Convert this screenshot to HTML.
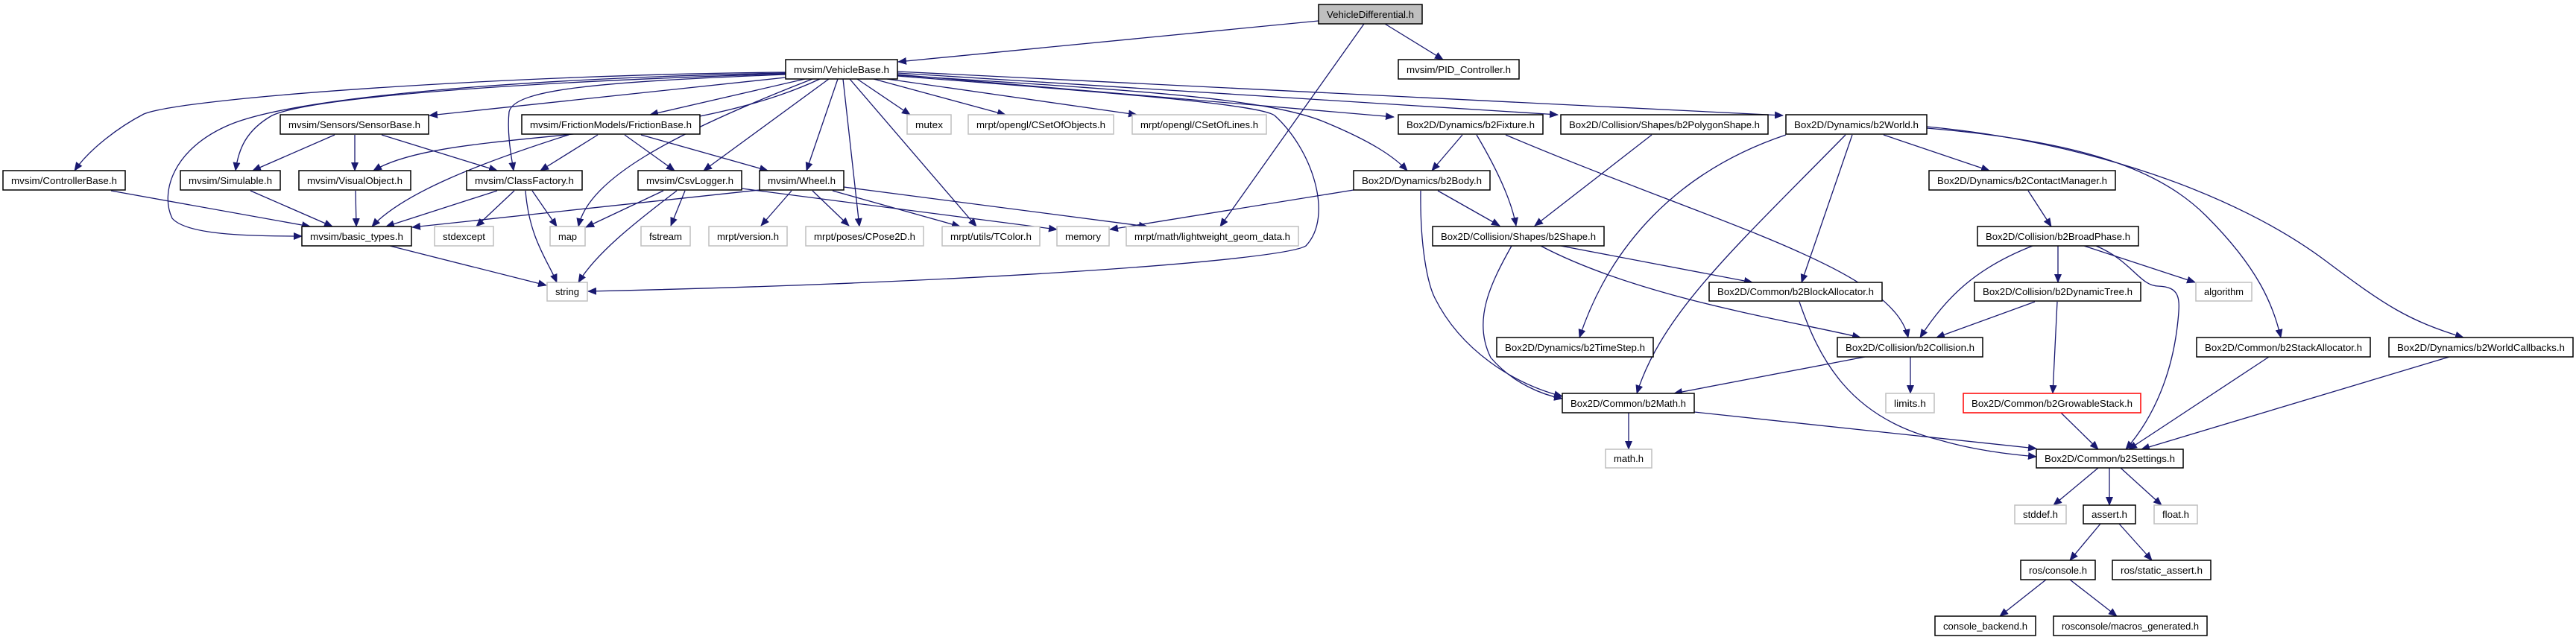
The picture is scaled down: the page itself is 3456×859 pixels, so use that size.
<!DOCTYPE html>
<html><head><meta charset="utf-8"><style>
html,body{margin:0;padding:0;background:#fff;}
svg{display:block}
text{font-family:"Liberation Sans",Arial,sans-serif;font-size:13px;fill:#000}
.n{fill:#fff;stroke:#000;stroke-width:1.5}
.g{fill:#fff;stroke:#bfbfbf;stroke-width:1.5}
.e{fill:none;stroke:#191970;stroke-width:1.3}
</style></head><body>
<svg width="3456" height="859" viewBox="0 0 3456 859" xmlns="http://www.w3.org/2000/svg">
<defs><marker id="a" markerUnits="userSpaceOnUse" markerWidth="12" markerHeight="10" refX="11" refY="5" orient="auto"><path d="M0,0 L12,5 L0,10 z" fill="#191970"/></marker></defs>
<g class="e" marker-end="url(#a)">
<path d="M1769,28 L1205,83"/>
<path d="M1858,32 L1936,80"/>
<path d="M1830,32 L1637,304"/>
<path d="M1054,97 C700,100 250,130 193,153 C160,170 120,200 100,229"/>
<path d="M1054,99 C700,110 420,130 365,155 C330,175 320,200 316,229"/>
<path d="M1054,98 C700,105 400,130 309,167 C230,200 215,260 231,293 C250,315 330,317 405,317"/>
<path d="M1054,104 L576,155"/>
<path d="M1100,106 C900,200 600,170 501,229"/>
<path d="M1054,100 C800,110 690,120 683,150 C680,180 686,210 689,229"/>
<path d="M1090,106 C900,180 790,240 776,304"/>
<path d="M1080,106 L872,154"/>
<path d="M1112,106 L944,229"/>
<path d="M1124,106 L1082,229"/>
<path d="M1131,106 L1153,304"/>
<path d="M1140,106 L1310,304"/>
<path d="M1150,106 L1221,154"/>
<path d="M1172,106 L1349,154"/>
<path d="M1190,106 L1525,154"/>
<path d="M1204,100 L1870,157"/>
<path d="M1204,98 L2090,154"/>
<path d="M1204,96 L2392,155"/>
<path d="M1204,101 C1500,120 1700,130 1780,165 C1840,190 1870,210 1888,229"/>
<path d="M1204,102 C1500,125 1690,140 1710,155 C1760,200 1790,290 1752,330 C1720,350 1300,380 789,391"/>
<path d="M763,181 C640,220 540,260 499,304"/>
<path d="M802,181 L725,229"/>
<path d="M838,181 L905,229"/>
<path d="M860,181 L1030,229"/>
<path d="M449,181 L339,229"/>
<path d="M476,181 L476,229"/>
<path d="M512,181 L667,229"/>
<path d="M149,256 L416,304"/>
<path d="M336,256 L446,304"/>
<path d="M477,256 L478,304"/>
<path d="M667,256 L518,304"/>
<path d="M690,256 L639,304"/>
<path d="M714,256 L747,304"/>
<path d="M705,256 C710,320 735,350 747,379"/>
<path d="M523,330 L733,383"/>
<path d="M1019,255 L553,305"/>
<path d="M890,256 L786,305"/>
<path d="M908,256 C850,300 800,340 776,379"/>
<path d="M919,256 L900,303"/>
<path d="M995,253 L1418,308"/>
<path d="M1062,256 L1021,303"/>
<path d="M1090,256 L1139,303"/>
<path d="M1117,256 L1288,304"/>
<path d="M1132,251 L1539,304"/>
<path d="M1816,255 L1489,308"/>
<path d="M1962,181 L1921,229"/>
<path d="M1981,181 C2010,230 2028,270 2034,303"/>
<path d="M2020,181 C2300,300 2540,360 2560,453"/>
<path d="M2216,181 L2059,303"/>
<path d="M1929,256 L2012,303"/>
<path d="M1906,256 C1905,330 1915,380 1925,400 C1960,470 2030,515 2096,532"/>
<path d="M2028,330 C2000,380 1975,430 2000,480 C2030,515 2070,530 2096,535"/>
<path d="M2094,330 L2351,379"/>
<path d="M2067,330 C2200,400 2400,430 2496,453"/>
<path d="M2396,181 C2250,230 2160,330 2119,453"/>
<path d="M2476,181 C2330,330 2230,420 2196,528"/>
<path d="M2485,181 L2417,379"/>
<path d="M2527,181 L2669,229"/>
<path d="M2585,172 C2800,190 2900,230 2960,290 C3030,360 3050,410 3060,453"/>
<path d="M2585,170 C2800,190 3000,260 3120,350 C3200,410 3230,430 3305,453"/>
<path d="M2721,256 L2752,304"/>
<path d="M2761,330 L2761,379"/>
<path d="M2796,330 L2945,379"/>
<path d="M2727,330 C2650,360 2610,400 2576,453"/>
<path d="M2812,330 C2860,350 2870,383 2895,384 C2925,385 2925,400 2922,430 C2915,500 2890,560 2852,603"/>
<path d="M2730,405 L2598,453"/>
<path d="M2760,405 L2754,528"/>
<path d="M2765,554 L2815,603"/>
<path d="M3044,479 L2856,603"/>
<path d="M3286,479 L2873,603"/>
<path d="M2185,554 L2185,603"/>
<path d="M2273,553 L2732,602"/>
<path d="M2414,405 C2440,480 2480,560 2600,590 C2650,605 2700,610 2732,613"/>
<path d="M2502,479 L2246,528"/>
<path d="M2563,479 L2563,528"/>
<path d="M2815,628 L2755,678"/>
<path d="M2830,628 L2830,678"/>
<path d="M2845,628 L2900,678"/>
<path d="M2818,703 L2777,752"/>
<path d="M2843,703 L2887,752"/>
<path d="M2745,778 L2683,827"/>
<path d="M2777,778 L2840,827"/>
</g>
<g>
<rect x="1769" y="6" width="139" height="26" fill="#bfbfbf" stroke="#000" stroke-width="1.5"/><text x="1838.5" y="24" text-anchor="middle" textLength="117" lengthAdjust="spacingAndGlyphs">VehicleDifferential.h</text>
<rect class="n" x="1054" y="80" width="150" height="26"/><text x="1129" y="98" text-anchor="middle" textLength="128" lengthAdjust="spacingAndGlyphs">mvsim/VehicleBase.h</text>
<rect class="n" x="1876" y="80" width="162" height="26"/><text x="1957" y="98" text-anchor="middle" textLength="140" lengthAdjust="spacingAndGlyphs">mvsim/PID_Controller.h</text>
<rect class="n" x="376" y="154" width="199" height="26"/><text x="475.5" y="172" text-anchor="middle" textLength="177" lengthAdjust="spacingAndGlyphs">mvsim/Sensors/SensorBase.h</text>
<rect class="n" x="700" y="154" width="239" height="26"/><text x="819.5" y="172" text-anchor="middle" textLength="217" lengthAdjust="spacingAndGlyphs">mvsim/FrictionModels/FrictionBase.h</text>
<rect class="g" x="1217" y="154" width="59" height="26"/><text x="1246.5" y="172" text-anchor="middle" textLength="37" lengthAdjust="spacingAndGlyphs">mutex</text>
<rect class="g" x="1299" y="154" width="195" height="26"/><text x="1396.5" y="172" text-anchor="middle" textLength="173" lengthAdjust="spacingAndGlyphs">mrpt/opengl/CSetOfObjects.h</text>
<rect class="g" x="1519" y="154" width="180" height="26"/><text x="1609" y="172" text-anchor="middle" textLength="158" lengthAdjust="spacingAndGlyphs">mrpt/opengl/CSetOfLines.h</text>
<rect class="n" x="1876" y="154" width="194" height="26"/><text x="1973" y="172" text-anchor="middle" textLength="172" lengthAdjust="spacingAndGlyphs">Box2D/Dynamics/b2Fixture.h</text>
<rect class="n" x="2094" y="154" width="278" height="26"/><text x="2233" y="172" text-anchor="middle" textLength="256" lengthAdjust="spacingAndGlyphs">Box2D/Collision/Shapes/b2PolygonShape.h</text>
<rect class="n" x="2396" y="154" width="189" height="26"/><text x="2490.5" y="172" text-anchor="middle" textLength="167" lengthAdjust="spacingAndGlyphs">Box2D/Dynamics/b2World.h</text>
<rect class="n" x="4" y="229" width="164" height="26"/><text x="86" y="247" text-anchor="middle" textLength="142" lengthAdjust="spacingAndGlyphs">mvsim/ControllerBase.h</text>
<rect class="n" x="242" y="229" width="134" height="26"/><text x="309" y="247" text-anchor="middle" textLength="112" lengthAdjust="spacingAndGlyphs">mvsim/Simulable.h</text>
<rect class="n" x="401" y="229" width="150" height="26"/><text x="476" y="247" text-anchor="middle" textLength="128" lengthAdjust="spacingAndGlyphs">mvsim/VisualObject.h</text>
<rect class="n" x="626" y="229" width="155" height="26"/><text x="703.5" y="247" text-anchor="middle" textLength="133" lengthAdjust="spacingAndGlyphs">mvsim/ClassFactory.h</text>
<rect class="n" x="856" y="229" width="139" height="26"/><text x="925.5" y="247" text-anchor="middle" textLength="117" lengthAdjust="spacingAndGlyphs">mvsim/CsvLogger.h</text>
<rect class="n" x="1019" y="229" width="113" height="26"/><text x="1075.5" y="247" text-anchor="middle" textLength="91" lengthAdjust="spacingAndGlyphs">mvsim/Wheel.h</text>
<rect class="n" x="1816" y="229" width="183" height="26"/><text x="1907.5" y="247" text-anchor="middle" textLength="161" lengthAdjust="spacingAndGlyphs">Box2D/Dynamics/b2Body.h</text>
<rect class="n" x="2588" y="229" width="250" height="26"/><text x="2713" y="247" text-anchor="middle" textLength="228" lengthAdjust="spacingAndGlyphs">Box2D/Dynamics/b2ContactManager.h</text>
<rect class="n" x="405" y="304" width="147" height="26"/><text x="478.5" y="322" text-anchor="middle" textLength="125" lengthAdjust="spacingAndGlyphs">mvsim/basic_types.h</text>
<rect class="g" x="583" y="304" width="79" height="26"/><text x="622.5" y="322" text-anchor="middle" textLength="57" lengthAdjust="spacingAndGlyphs">stdexcept</text>
<rect class="g" x="738" y="304" width="47" height="26"/><text x="761.5" y="322" text-anchor="middle" textLength="25" lengthAdjust="spacingAndGlyphs">map</text>
<rect class="g" x="860" y="304" width="66" height="26"/><text x="893" y="322" text-anchor="middle" textLength="44" lengthAdjust="spacingAndGlyphs">fstream</text>
<rect class="g" x="951" y="304" width="105" height="26"/><text x="1003.5" y="322" text-anchor="middle" textLength="83" lengthAdjust="spacingAndGlyphs">mrpt/version.h</text>
<rect class="g" x="1081" y="304" width="158" height="26"/><text x="1160" y="322" text-anchor="middle" textLength="136" lengthAdjust="spacingAndGlyphs">mrpt/poses/CPose2D.h</text>
<rect class="g" x="1264" y="304" width="131" height="26"/><text x="1329.5" y="322" text-anchor="middle" textLength="109" lengthAdjust="spacingAndGlyphs">mrpt/utils/TColor.h</text>
<rect class="g" x="1418" y="304" width="70" height="26"/><text x="1453" y="322" text-anchor="middle" textLength="48" lengthAdjust="spacingAndGlyphs">memory</text>
<rect class="g" x="1511" y="304" width="231" height="26"/><text x="1626.5" y="322" text-anchor="middle" textLength="209" lengthAdjust="spacingAndGlyphs">mrpt/math/lightweight_geom_data.h</text>
<rect class="n" x="1922" y="304" width="230" height="26"/><text x="2037" y="322" text-anchor="middle" textLength="208" lengthAdjust="spacingAndGlyphs">Box2D/Collision/Shapes/b2Shape.h</text>
<rect class="n" x="2653" y="304" width="216" height="26"/><text x="2761" y="322" text-anchor="middle" textLength="194" lengthAdjust="spacingAndGlyphs">Box2D/Collision/b2BroadPhase.h</text>
<rect class="g" x="734" y="379" width="54" height="25"/><text x="761" y="396" text-anchor="middle" textLength="32" lengthAdjust="spacingAndGlyphs">string</text>
<rect class="n" x="2293" y="379" width="232" height="25"/><text x="2409" y="396" text-anchor="middle" textLength="210" lengthAdjust="spacingAndGlyphs">Box2D/Common/b2BlockAllocator.h</text>
<rect class="n" x="2649" y="379" width="223" height="25"/><text x="2760.5" y="396" text-anchor="middle" textLength="201" lengthAdjust="spacingAndGlyphs">Box2D/Collision/b2DynamicTree.h</text>
<rect class="g" x="2946" y="379" width="75" height="25"/><text x="2983.5" y="396" text-anchor="middle" textLength="53" lengthAdjust="spacingAndGlyphs">algorithm</text>
<rect class="n" x="2008" y="453" width="210" height="26"/><text x="2113" y="471" text-anchor="middle" textLength="188" lengthAdjust="spacingAndGlyphs">Box2D/Dynamics/b2TimeStep.h</text>
<rect class="n" x="2465" y="453" width="195" height="26"/><text x="2562.5" y="471" text-anchor="middle" textLength="173" lengthAdjust="spacingAndGlyphs">Box2D/Collision/b2Collision.h</text>
<rect class="n" x="2947" y="453" width="233" height="26"/><text x="3063.5" y="471" text-anchor="middle" textLength="211" lengthAdjust="spacingAndGlyphs">Box2D/Common/b2StackAllocator.h</text>
<rect class="n" x="3205" y="453" width="247" height="26"/><text x="3328.5" y="471" text-anchor="middle" textLength="225" lengthAdjust="spacingAndGlyphs">Box2D/Dynamics/b2WorldCallbacks.h</text>
<rect class="n" x="2096" y="528" width="177" height="26"/><text x="2184.5" y="546" text-anchor="middle" textLength="155" lengthAdjust="spacingAndGlyphs">Box2D/Common/b2Math.h</text>
<rect class="g" x="2530" y="528" width="65" height="26"/><text x="2562.5" y="546" text-anchor="middle" textLength="43" lengthAdjust="spacingAndGlyphs">limits.h</text>
<rect x="2634" y="528" width="238" height="26" fill="#fff" stroke="#ff0000" stroke-width="1.5"/><text x="2753" y="546" text-anchor="middle" textLength="216" lengthAdjust="spacingAndGlyphs">Box2D/Common/b2GrowableStack.h</text>
<rect class="g" x="2154" y="603" width="62" height="25"/><text x="2185" y="620" text-anchor="middle" textLength="40" lengthAdjust="spacingAndGlyphs">math.h</text>
<rect class="n" x="2732" y="603" width="197" height="25"/><text x="2830.5" y="620" text-anchor="middle" textLength="175" lengthAdjust="spacingAndGlyphs">Box2D/Common/b2Settings.h</text>
<rect class="g" x="2703" y="678" width="69" height="25"/><text x="2737.5" y="695" text-anchor="middle" textLength="47" lengthAdjust="spacingAndGlyphs">stddef.h</text>
<rect class="n" x="2795" y="678" width="70" height="25"/><text x="2830" y="695" text-anchor="middle" textLength="48" lengthAdjust="spacingAndGlyphs">assert.h</text>
<rect class="g" x="2890" y="678" width="58" height="25"/><text x="2919" y="695" text-anchor="middle" textLength="36" lengthAdjust="spacingAndGlyphs">float.h</text>
<rect class="n" x="2711" y="752" width="100" height="26"/><text x="2761" y="770" text-anchor="middle" textLength="78" lengthAdjust="spacingAndGlyphs">ros/console.h</text>
<rect class="n" x="2834" y="752" width="132" height="26"/><text x="2900" y="770" text-anchor="middle" textLength="110" lengthAdjust="spacingAndGlyphs">ros/static_assert.h</text>
<rect class="n" x="2596" y="827" width="135" height="26"/><text x="2663.5" y="845" text-anchor="middle" textLength="113" lengthAdjust="spacingAndGlyphs">console_backend.h</text>
<rect class="n" x="2755" y="827" width="206" height="26"/><text x="2858" y="845" text-anchor="middle" textLength="184" lengthAdjust="spacingAndGlyphs">rosconsole/macros_generated.h</text>
</g>
</svg>
</body></html>
